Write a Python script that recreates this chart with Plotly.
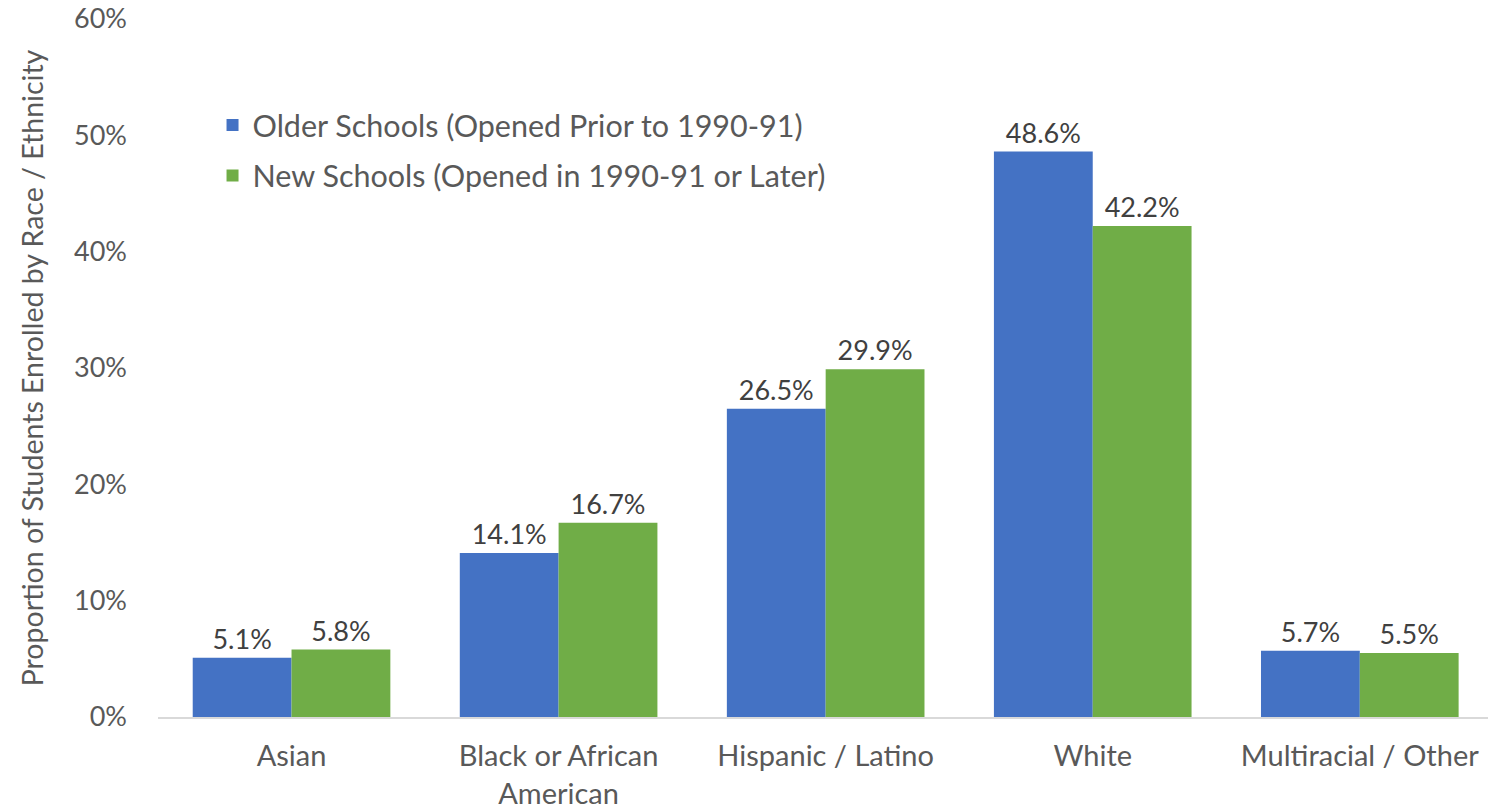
import plotly.graph_objects as go

categories = ["Asian", "Black or African<br>American", "Hispanic / Latino", "White", "Multiracial / Other"]
older_schools = [5.1, 14.1, 26.5, 48.6, 5.7]
new_schools = [5.8, 16.7, 29.9, 42.2, 5.5]
series_names = ["Older Schools (Opened Prior to 1990-91)", "New Schools (Opened in 1990-91 or Later)"]
y_ticks = [0, 10, 20, 30, 40, 50, 60]

FONT = "Lato, Calibri, Carlito, sans-serif"
TEXT_COLOR = "#595959"

fig = go.Figure()
for i, (name, vals, color) in enumerate([
    (series_names[0], older_schools, "#4472C4"),
    (series_names[1], new_schools, "#70AD47"),
]):
    fig.add_trace(go.Bar(
        x=categories, y=vals, name=name, legendgroup=f"g{i}",
        marker=dict(color=color, line=dict(width=0)),
        text=[f"{v:.1f}%" for v in vals],
        textposition="outside",
        textfont=dict(family=FONT, size=27, color="#404040"),
        cliponaxis=False,
    ))

fig.update_layout(
    width=1488, height=811,
    margin=dict(l=158, r=0, t=19, b=94, autoexpand=False),
    paper_bgcolor="white", plot_bgcolor="white",
    barmode="group", bargap=0.26, bargroupgap=0,
    font=dict(family=FONT, size=27, color=TEXT_COLOR),
    showlegend=True,
    legend=dict(
        x=0.041, y=0.886, xanchor="left", yanchor="top",
        bgcolor="rgba(0,0,0,0)",
        font=dict(family=FONT, size=30.5, color=TEXT_COLOR),
        itemwidth=30, tracegroupgap=8,
    ),
    xaxis=dict(
        range=[-0.5, 4.48], automargin=False,
        showline=True, linecolor="#D9D9D9", linewidth=2,
        showgrid=False, ticks="", ticklabelstandoff=12,
        tickfont=dict(family=FONT, size=29, color=TEXT_COLOR),
    ),
    yaxis=dict(
        range=[0, 60], automargin=False,
        tickvals=y_ticks,
        ticktext=[f"{t}%" for t in y_ticks],
        showgrid=False, zeroline=False, showline=False,
        ticks="", ticklabelstandoff=30,
        tickfont=dict(family=FONT, size=27, color=TEXT_COLOR),
        title=dict(text="Proportion of Students Enrolled by Race / Ethnicity",
                   font=dict(family=FONT, size=28.5, color=TEXT_COLOR), standoff=22),
    ),
)

fig.write_html("out.html")
